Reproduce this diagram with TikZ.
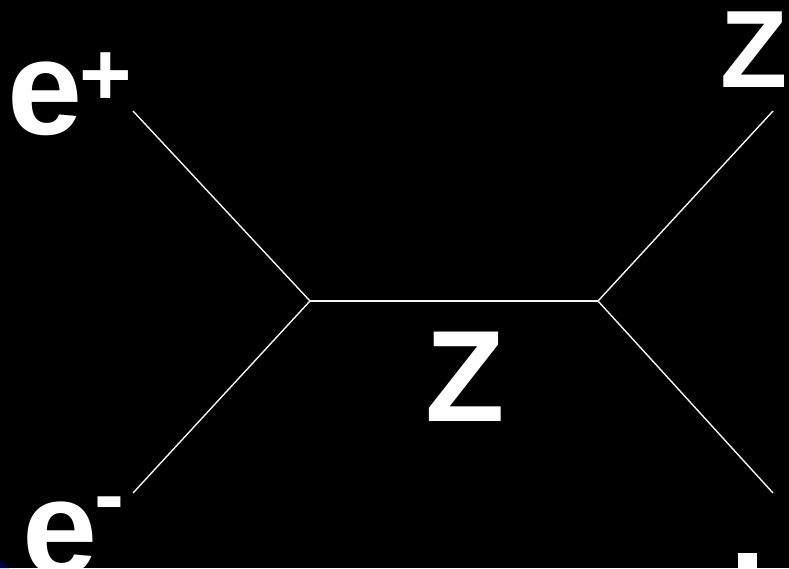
\documentclass[tikz,border=0pt]{standalone}
\usepackage{fontspec}
\setmainfont{Liberation Sans}
\tikzset{
  lbl/.style={text=white, inner sep=0pt, anchor=base west, font=\bfseries\fontsize{#1}{#1}\selectfont},
  prop/.style={draw=white!92!gray, line width=1.4pt},
}
\begin{document}
\begin{tikzpicture}[x=1pt,y=-1pt]
\fill[black] (0,0) rectangle (789,568);
\useasboundingbox (0,0) rectangle (789,568);
\begin{scope}
\clip (0,0) rectangle (789,568);
\fill[blue!30!black] (0,560) .. controls (4,564) .. (9,568) -- (0,568) -- cycle;
\coordinate (pA) at (133,111);
\coordinate (pB) at (133,493);
\coordinate (v1) at (310,301);
\coordinate (v2) at (598,301);
\coordinate (pC) at (773,111);
\coordinate (pD) at (773,493);
\draw[prop] (pA) -- (v1);
\draw[prop] (pB) -- (v1);
\draw[prop] (v1) -- (v2);
\draw[prop] (v2) -- (pC);
\draw[prop] (v2) -- (pD);
\node[lbl=135] (ep) at (7,134) {e};
\node[lbl=90] (epsup) at (79,105) {+};
\node[lbl=135] (em) at (22,574) {e};
\node[lbl=90] (emsup) at (94,525) {-};
\node[lbl=130] (zmid) at (425,421) {Z};
\node[lbl=110] (ztop) at (720,87) {Z};
\fill[white] (738,553) rectangle (757,570);
\end{scope}
\end{tikzpicture}
\end{document}
